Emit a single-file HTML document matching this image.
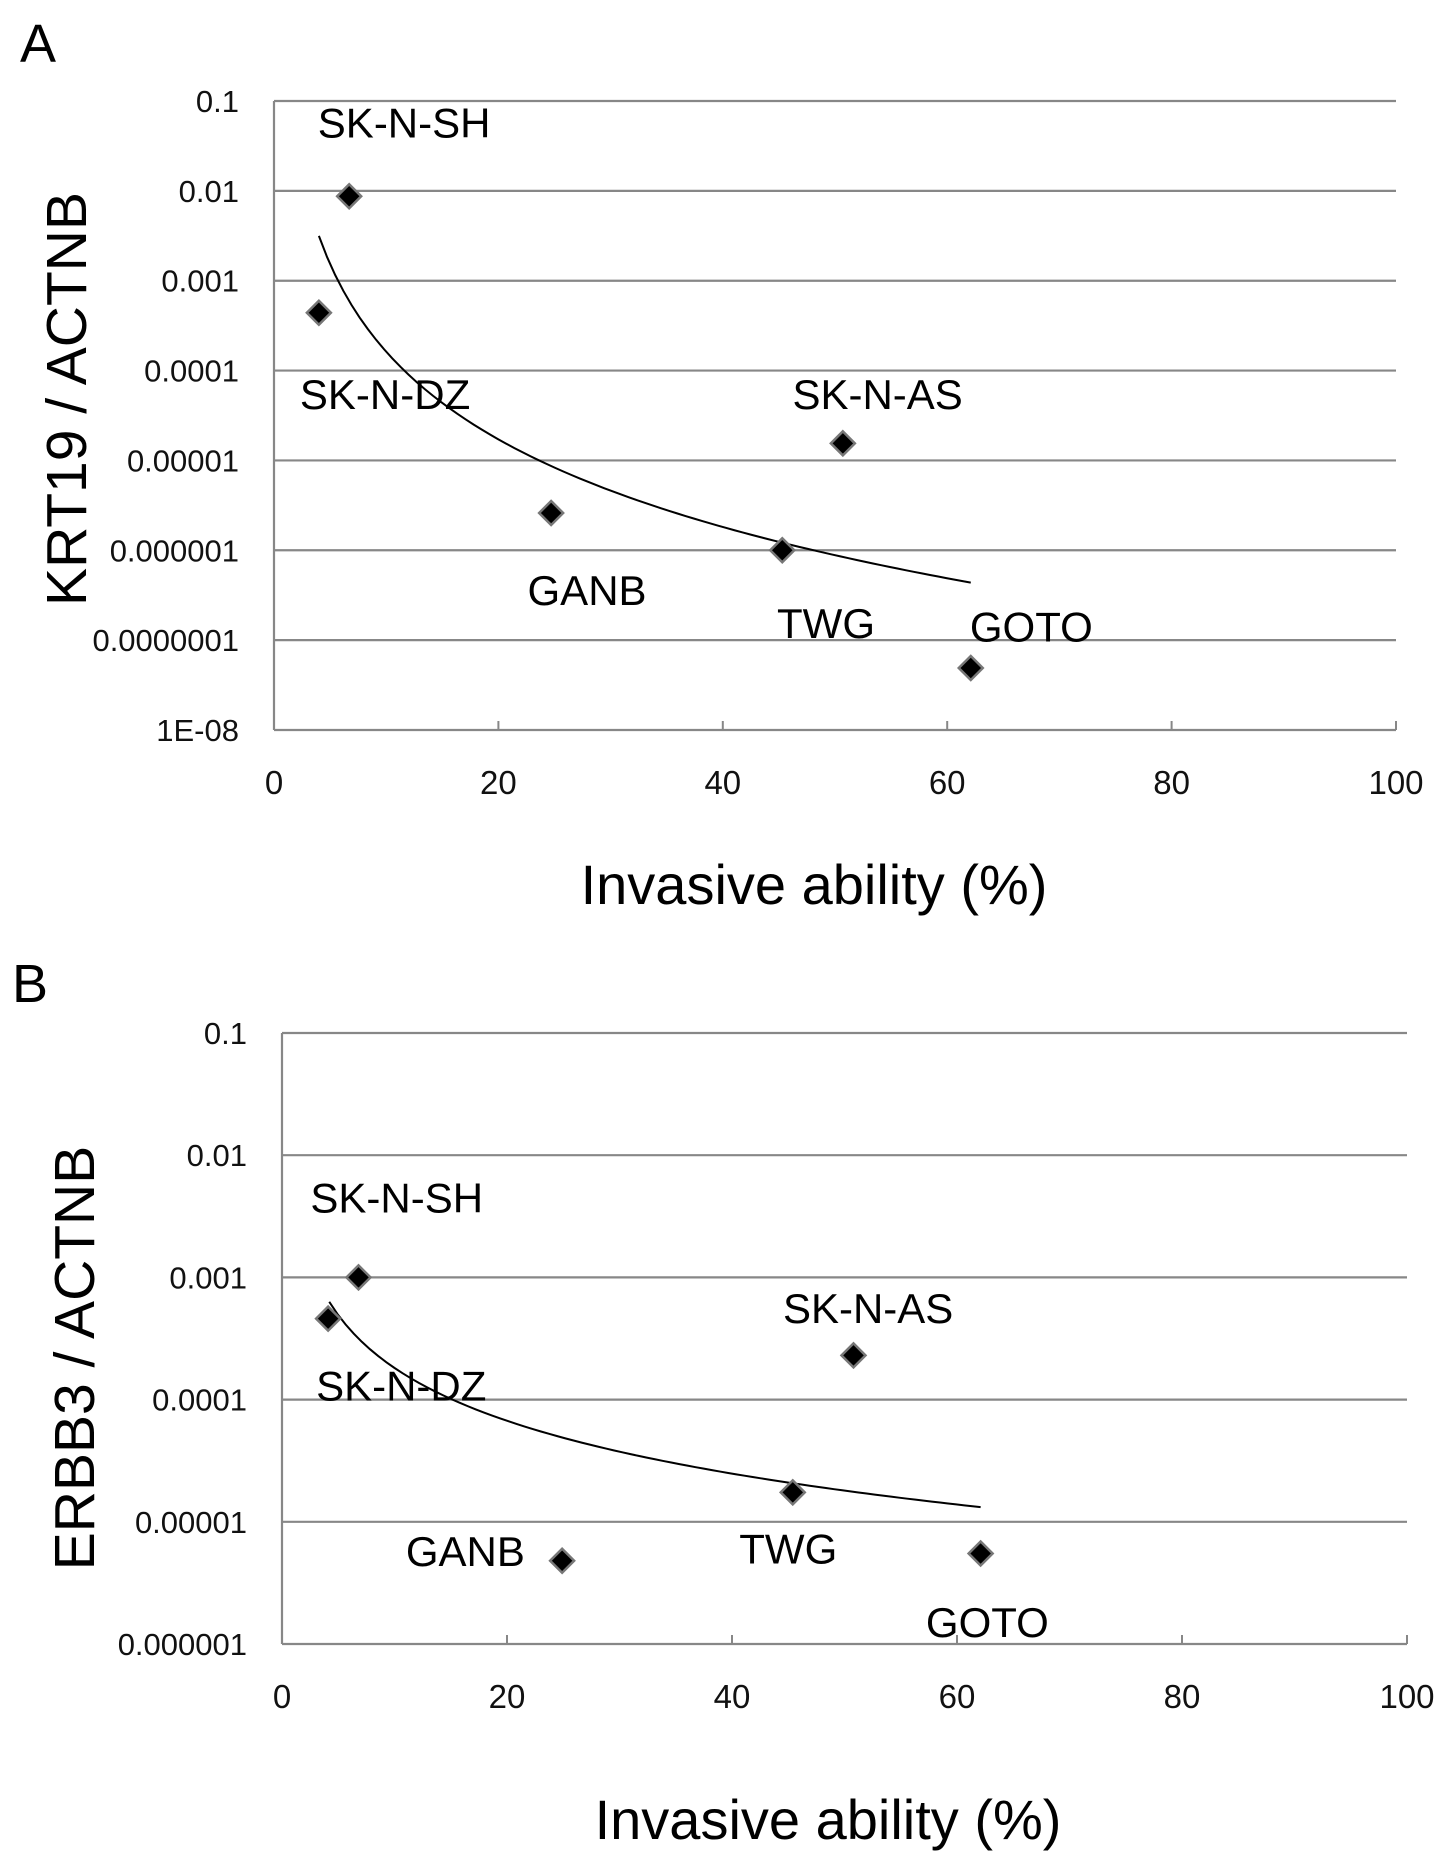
<!DOCTYPE html>
<html><head><meta charset="utf-8">
<style>
html,body{margin:0;padding:0;background:#fff;}
svg{display:block;font-family:"Liberation Sans",Arial,sans-serif;}
</style></head>
<body>
<svg id="fig" width="1453" height="1867" viewBox="0 0 1453 1867">
<text x="20" y="62" font-size="54">A</text>
<text x="12" y="1002" font-size="54">B</text>
</svg>
<script>
// Panel A data
const aNames = ["SK-N-SH","SK-N-DZ","GANB","TWG","SK-N-AS","GOTO"];
const aInvasive = [6.7, 4.0, 24.7, 45.3, 50.7, 62.1];
const aExpr = [0.0087, 0.00044, 0.0000026, 0.000001, 0.0000155, 0.000000049];
const aYTicks = ["1E-08","0.0000001","0.000001","0.00001","0.0001","0.001","0.01","0.1"];
const aLabelX = [11.6, 9.9, 27.9, 49.2, 53.8, 67.5];
const aLabelLog = [-1.24, -4.26, -6.44, -6.81, -4.26, -6.85];
const aTrend = [-0.55, -3.24]; // log10 y = a + b log10 x
const aTrendRange = [4.0, 62.1];
// Panel B data
const bNames = ["SK-N-SH","SK-N-DZ","GANB","TWG","SK-N-AS","GOTO"];
const bInvasive = [6.8, 4.1, 24.9, 45.4, 50.8, 62.1];
const bExpr = [0.001, 0.00046, 0.0000048, 0.0000174, 0.00023, 0.0000055];
const bYTicks = ["0.000001","0.00001","0.0001","0.001","0.01","0.1"];
const bLabelX = [10.2, 10.6, 16.3, 45.0, 52.1, 62.7];
const bLabelLog = [-2.345, -3.885, -5.24, -5.22, -3.25, -5.82];
const bTrend = [-2.305, -1.436];
const bTrendRange = [4.2, 62.1];
const xTicks = ["0","20","40","60","80","100"];

const NS = "http://www.w3.org/2000/svg";
const svg = document.getElementById("fig");
function mk(tag, attrs, parent){
  const e = document.createElementNS(NS, tag);
  for (const k in attrs) e.setAttribute(k, attrs[k]);
  (parent||svg).appendChild(e);
  return e;
}
function panel(p){
  const g = mk("g", {});
  
  
  const topLog = -1, botLog = -1 - (p.yTicks.length - 1);
  const X = v => p.L + (v/100)*(p.R - p.L);
  const Y = lg => p.T + (topLog - lg)/(topLog - botLog)*(p.B - p.T);
  p.yTicks.forEach((t,i)=>{
    const lg = botLog + i;
    const y = Y(lg);
    const ln = mk("line",{x1:p.L,x2:p.R,y1:y,y2:y,stroke:"#878787","stroke-width":2.2},g);
    
    
    const tx = mk("text",{x:p.L-35,y:y+11,"font-size":31,"text-anchor":"end",fill:"#111"},g);
    tx.textContent = t;
    
    
  });
  const ya = mk("line",{x1:p.L,x2:p.L,y1:p.T,y2:p.B,stroke:"#878787","stroke-width":2.2},g);
  
  
  xTicks.forEach((t,i)=>{
    const v = +t, x = X(v);
    if (i>0){
      const tk = mk("line",{x1:x,x2:x,y1:p.B-9,y2:p.B,stroke:"#878787","stroke-width":2},g);
      
      
    }
    const tx = mk("text",{x:x,y:p.B+64,"font-size":33,"text-anchor":"middle",fill:"#111"},g);
    tx.textContent = t;
    
    
  });
  let d = "";
  const n = 80;
  for (let k=0;k<=n;k++){
    const xv = p.tr[0] + (p.tr[1]-p.tr[0])*k/n;
    const lg = p.trend[0] + p.trend[1]*Math.log10(xv);
    d += (k?"L":"M") + X(xv).toFixed(2) + "," + Y(lg).toFixed(2);
  }
  const tl = mk("path",{d:d,fill:"none",stroke:"#000","stroke-width":2},g);
  
  
  p.xs.forEach((xv,i)=>{
    const cx = X(xv), cy = Y(Math.log10(p.ys[i])), s = 12;
    const m = mk("polygon",{points:`${cx},${cy-s} ${cx+s},${cy} ${cx},${cy+s} ${cx-s},${cy}`,fill:"#000",stroke:"#777","stroke-width":2.5},g);
    
    
  });
  p.names.forEach((nm,i)=>{
    const tx = mk("text",{x:X(p.lx[i]),y:Y(p.ll[i])+15,"font-size":42,"text-anchor":"middle",fill:"#000"},g);
    tx.textContent = nm;
    
    
  });
  const xt = mk("text",{x:p.xTitleX,y:p.xTitleY,"font-size":56,"text-anchor":"middle",fill:"#000"},g);
  xt.textContent = "Invasive ability (%)";
  
  
  const yt = mk("text",{x:0,y:0,"font-size":57,"text-anchor":"middle",fill:"#000",transform:`translate(${p.yTitleX},${p.yTitleY}) rotate(-90)`},g);
  yt.textContent = p.yTitle;
  
  
}
panel({id:"panel-a",L:274,R:1396,T:101,B:730,yTicks:aYTicks,names:aNames,xs:aInvasive,ys:aExpr,lx:aLabelX,ll:aLabelLog,trend:aTrend,tr:aTrendRange,xTitleX:814,xTitleY:904,yTitleX:86,yTitleY:399,yTitle:"KRT19 / ACTNB"});
panel({id:"panel-b",L:282,R:1407,T:1033,B:1644,yTicks:bYTicks,names:bNames,xs:bInvasive,ys:bExpr,lx:bLabelX,ll:bLabelLog,trend:bTrend,tr:bTrendRange,xTitleX:828,xTitleY:1839,yTitleX:94,yTitleY:1358,yTitle:"ERBB3 / ACTNB"});
</script>
</body></html>
